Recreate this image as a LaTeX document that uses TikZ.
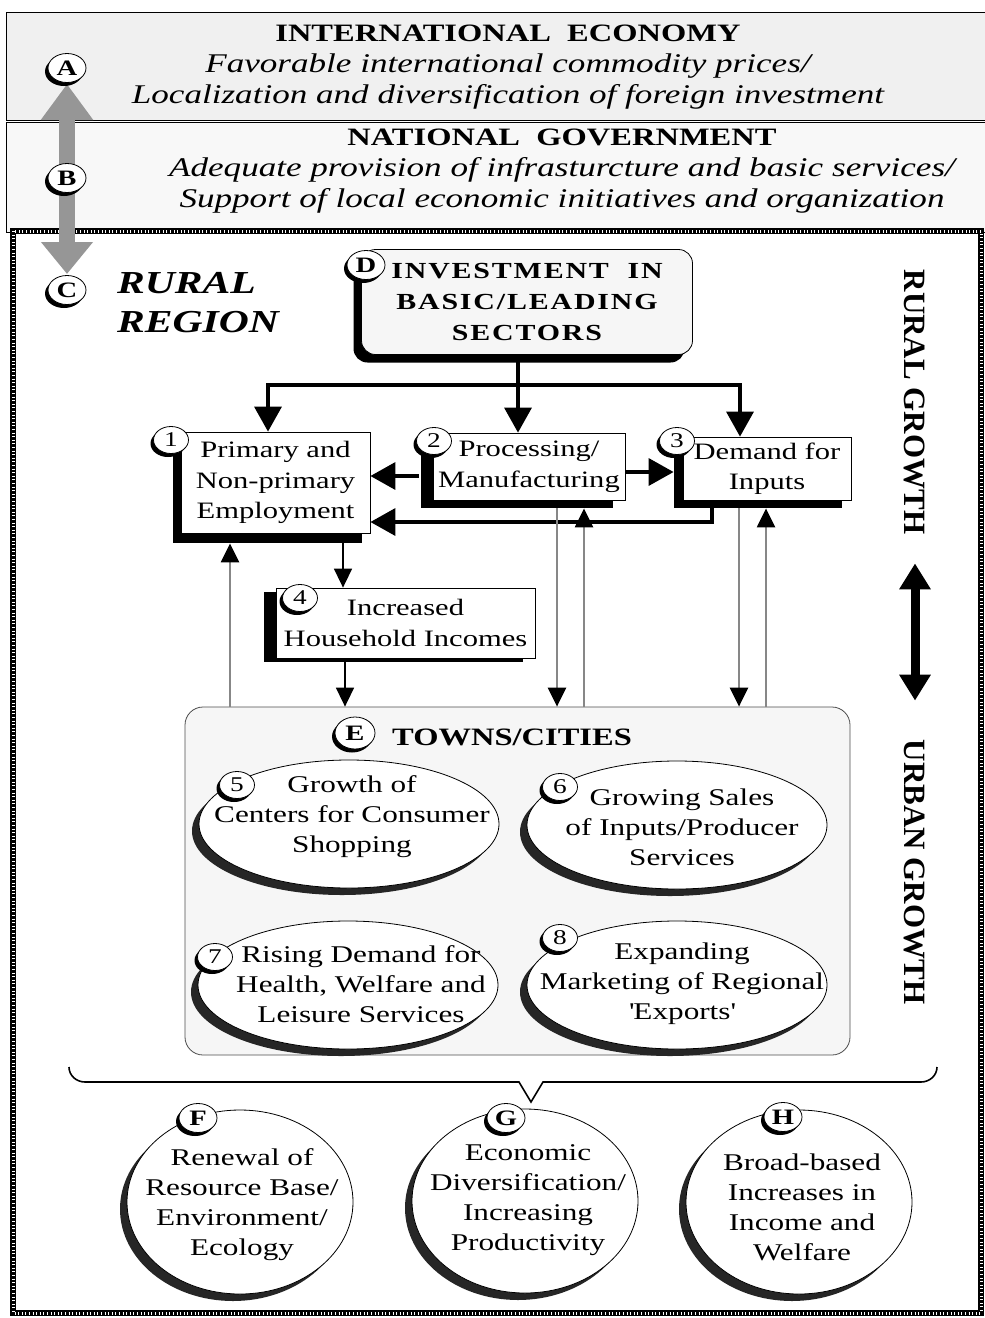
\documentclass[tikz,border=0pt]{standalone}
\usepackage{fontspec}
\setmainfont{Liberation Serif}[FakeStretch=1.3]
\newfontfamily\plainserif{Liberation Serif}
\newfontfamily\spacedserif{Liberation Serif}[FakeStretch=1.3,LetterSpace=8]
\usetikzlibrary{positioning,arrows.meta,shapes.geometric,shadows}
\definecolor{topgray}{RGB}{240,240,240}
\definecolor{govgray}{RGB}{248,248,248}
\definecolor{boxgray}{RGB}{246,246,246}
\definecolor{linkgray}{RGB}{135,135,135}
\definecolor{upgray}{RGB}{150,150,150}
\tikzset{
    badge/.style={
        ellipse,
        draw,
        thick,
        fill=white,
        inner sep=0pt,
        minimum width=35pt,
        minimum height=27pt,
        font=\fontsize{21}{21}\selectfont,
        general shadow={fill=black, shadow xshift=-3pt, shadow yshift=-3.5pt}
    },
    lbadge/.style={badge, minimum width=38pt, minimum height=29pt, font=\bfseries\fontsize{22}{22}\selectfont},
    boxshade/.style 2 args={general shadow={fill=black, shadow xshift=#1, shadow yshift=#2}},
    flow/.style={
        rectangle,
        draw,
        thick,
        fill=white,
        inner sep=0pt,
        align=center,
        font=\fontsize{23.5}{30.5}\selectfont
    },
    oval/.style={
        ellipse,
        draw,
        thick,
        fill=white,
        inner sep=0pt,
        general shadow={fill=black!85, shadow xshift=-7pt, shadow yshift=-7pt}
    },
    ovaltext/.style={align=center, inner sep=0pt, font=\fontsize{24}{30}\selectfont},
    thickarr/.style={line width=3.5pt, -{Triangle[length=25pt,width=27pt]}},
    thinarr/.style={line width=1.6pt, -{Triangle[length=19pt,width=18pt]}},
    linkarr/.style={draw=linkgray, line width=2.4pt, -{Triangle[length=19pt,width=18pt,color=black]}}
}

\begin{document}
\begin{tikzpicture}[x=1pt,y=-1pt]
\useasboundingbox (0,0) rectangle (985,1318);
% outer levels
\draw[thick, fill=topgray] (6,12) rectangle (992,120);
\draw[thick, fill=govgray] (6,122) rectangle (992,232);
\node[align=center, font=\itshape\fontsize{27}{31}\selectfont] (intl) at (508,67)
    {{\upshape\bfseries\fontsize{25}{31}\selectfont INTERNATIONAL\ \ ECONOMY}\\
     Favorable international commodity prices/\\
     Localization and diversification of foreign investment};
\node[align=center, font=\itshape\fontsize{27}{31}\selectfont] (govt) at (562,171)
    {{\upshape\bfseries\fontsize{25}{31}\selectfont NATIONAL\ \ GOVERNMENT}\\
     Adequate provision of infrasturcture and basic services/\\
     Support of local economic initiatives and organization};

% rural region frame
\draw[line width=6pt] (13,231) rectangle (981,1313);
\draw[white, line width=3pt, dash pattern=on 1pt off 2.6pt] (13,231) rectangle (981,1313);

% levels A-B-C
\coordinate (pa) at (67,68);
\coordinate (pb) at (67,178);
\coordinate (pc) at (67,290);
\draw[upgray, line width=16pt, {Triangle[length=36pt,width=50pt]}-{Triangle[length=32pt,width=50pt]},
    shorten <=16pt, shorten >=16pt] (pa) -- (pc);
\node[lbadge] (ca) at (pa) {A};
\node[lbadge] (cb) at (pb) {B};
\node[lbadge] (cc) at (pc) {C};
\node[anchor=north west, align=left, inner sep=0pt,
    font=\bfseries\itshape\fontsize{32}{39}\selectfont] (rural) at (117,272) {RURAL\\REGION};

% leading sectors
\node[flow, rounded corners=14pt, fill=boxgray, minimum width=331pt, minimum height=105pt,
    font=\spacedserif\bfseries\fontsize{23}{31}\selectfont, boxshade={-8pt}{-8pt}] (inv) at (527,302)
    {INVESTMENT\ \ IN\\BASIC/LEADING\\SECTORS};
\node[lbadge] (cd) at (366,265) {D};

% rural boxes
\node[flow, minimum width=189pt, minimum height=101pt, boxshade={-8pt}{-10pt}] (prim) at (275.5,482.5)
    {Primary and\\Non-primary\\Employment};
\node[flow, minimum width=192pt, minimum height=67pt, boxshade={-12pt}{-8pt}] (proc) at (529,466.5)
    {Processing/\\Manufacturing};
\node[flow, minimum width=168pt, minimum height=63pt, boxshade={-9pt}{-8pt}] (dem) at (767,468.5)
    {Demand for\\Inputs};
\node[flow, minimum width=259pt, minimum height=70pt, boxshade={-12pt}{-4pt}] (hh) at (405.5,623)
    {Increased\\Household Incomes};
\node[badge] (c1) at (171,440) {1};
\node[badge] (c2) at (434,441) {2};
\node[badge] (c3) at (677,441) {3};
\node[badge] (c4) at (300,598) {4};

% towns and cities
\node[draw=black!70, thick, rounded corners=18pt, fill=boxgray, minimum width=665pt,
    minimum height=348pt, inner sep=0pt] (towns) at (517.5,881) {};
\node[lbadge, minimum width=40pt, minimum height=32pt] (ce) at (355,733) {E};
\node[anchor=west, inner sep=0pt, font=\bfseries\fontsize{25}{25}\selectfont] (tc) at (392,737) {TOWNS/CITIES};
\node[oval, minimum width=300pt, minimum height=128pt] (shop) at (349,824) {};
\node[oval, minimum width=300pt, minimum height=128pt] (sales) at (677,825) {};
\node[oval, minimum width=300pt, minimum height=128pt] (health) at (348,985) {};
\node[oval, minimum width=300pt, minimum height=128pt] (export) at (677,985) {};
\node[ovaltext] (t5) at (352,817) {Growth of\\Centers for Consumer\\Shopping};
\node[ovaltext] (t6) at (682,827) {Growing Sales\\of Inputs/Producer\\Services};
\node[ovaltext] (t7) at (361,984) {Rising Demand for\\Health, Welfare and\\Leisure Services};
\node[ovaltext] (t8) at (682,984) {Expanding\\Marketing of Regional\\\textquotesingle Exports\textquotesingle};
\node[badge] (c5) at (237,785) {5};
\node[badge] (c6) at (560,787) {6};
\node[badge] (c7) at (215,957) {7};
\node[badge] (c8) at (560,938) {8};

% flows from investment
\coordinate (split) at (518,385);
\draw[line width=3.5pt] (inv.south -| split) -- (split);
\draw[thickarr] (split) -- (split |- proc.north);
\draw[thickarr] (split) -| ([xshift=-7.5pt]prim.north);
\draw[thickarr] (split) -| ([xshift=-27pt]dem.north);
\draw[thickarr] ([xshift=-14pt,yshift=-9.5pt]proc.west) -- ([yshift=-9.5pt]proc.west -| prim.east);
\draw[thickarr] ([yshift=-5.5pt]proc.east) -- ([xshift=-9pt,yshift=-5.5pt]proc.east -| dem.west);
\draw[thickarr] ([xshift=-55pt]dem.south) |- ([yshift=-39.5pt]prim.east);
\draw[thinarr] ([xshift=67.5pt]prim.south) -- ([xshift=67.5pt]prim.south |- hh.north);
\draw[thinarr] ([xshift=-60.5pt]hh.south) -- ([xshift=-60.5pt]hh.south |- towns.north);

% links to towns
\draw[linkarr] ([xshift=-45.5pt]prim.south |- towns.north) -- ([xshift=-45.5pt,yshift=-10pt]prim.south);
\draw[linkarr] ([xshift=28pt,yshift=-8pt]proc.south) -- ([xshift=28pt]proc.south |- towns.north);
\draw[linkarr] ([xshift=55pt]proc.south |- towns.north) -- ([xshift=55pt,yshift=-8pt]proc.south);
\draw[linkarr] ([xshift=-28pt,yshift=-8pt]dem.south) -- ([xshift=-28pt]dem.south |- towns.north);
\draw[linkarr] ([xshift=-1pt]dem.south |- towns.north) -- ([xshift=-1pt,yshift=-8pt]dem.south);

% rural <-> urban
\node[rotate=-90, inner sep=0pt, font=\plainserif\bfseries\fontsize{31}{31}\selectfont] (rgrow) at (915,402) {RURAL GROWTH};
\node[rotate=-90, inner sep=0pt, font=\plainserif\bfseries\fontsize{31}{31}\selectfont] (ugrow) at (915,872) {URBAN GROWTH};
\draw[line width=9pt, {Triangle[length=26pt,width=30pt]}-{Triangle[length=26pt,width=30pt]},
    shorten <=29pt, shorten >=39pt] (rgrow.east) -- (ugrow.west);

% outcomes
\coordinate (bl) at (69,1067);
\coordinate (br) at (937,1067);
\coordinate (tip) at (531,1102);
\draw[line width=1.6pt] (bl) to[out=-90,in=180] (85,1082) -- (519,1082) -- (tip)
    -- (543,1082) -- (921,1082) to[out=0,in=-90] (br);
\node[oval, minimum width=226pt, minimum height=184pt] (renew) at (240,1202) {};
\node[oval, minimum width=226pt, minimum height=184pt] (divers) at (525,1201) {};
\node[oval, minimum width=226pt, minimum height=184pt] (welfare) at (799,1202) {};
\node[ovaltext] (tf) at (242,1205) {Renewal of\\Resource Base/\\Environment/\\Ecology};
\node[ovaltext] (tg) at (528,1200) {Economic\\Diversification/\\Increasing\\Productivity};
\node[ovaltext] (th) at (802,1207) {Broad-based\\Increases in\\Income and\\Welfare};
\node[lbadge] (cf) at (198,1118) {F};
\node[lbadge] (cg) at (506,1118) {G};
\node[lbadge] (chh) at (783,1117) {H};
\end{tikzpicture}
\end{document}
